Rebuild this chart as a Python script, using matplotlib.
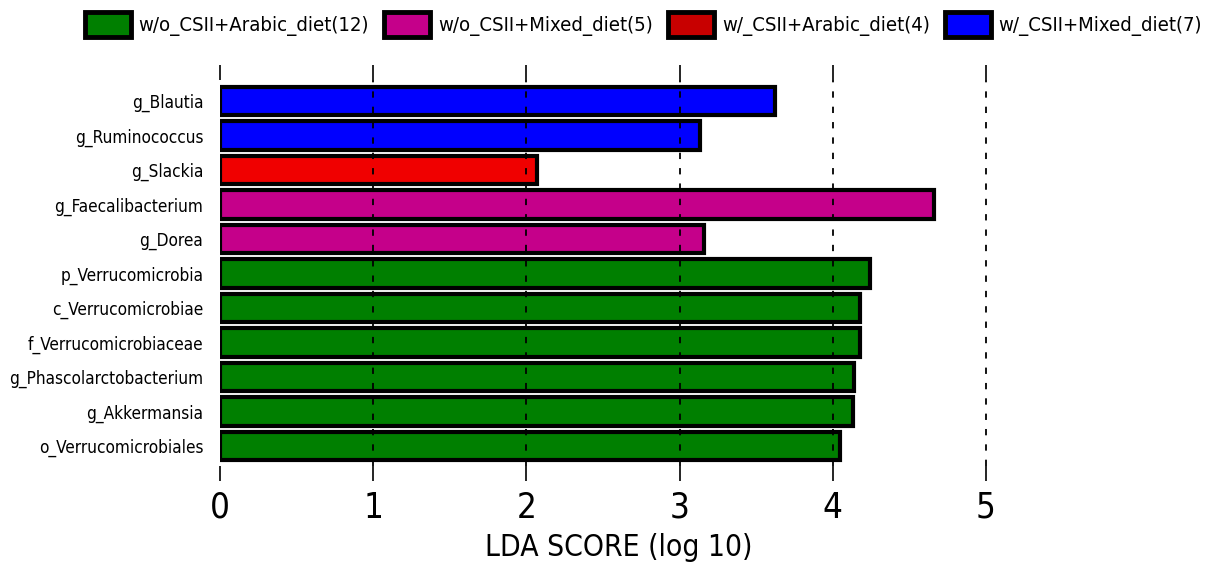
import matplotlib
matplotlib.use("Agg")
import matplotlib.pyplot as plt
from matplotlib.patches import Patch
import numpy as np

plt.rcParams['font.family'] = ['DejaVu Sans']
plt.rcParams['font.stretch'] = 'condensed'

# features listed top to bottom
features = ['g_Blautia', 'g_Ruminococcus', 'g_Slackia', 'g_Faecalibacterium',
            'g_Dorea', 'p_Verrucomicrobia', 'c_Verrucomicrobiae',
            'f_Verrucomicrobiaceae', 'g_Phascolarctobacterium',
            'g_Akkermansia', 'o_Verrucomicrobiales']
lda = [3.62, 3.13, 2.07, 4.66, 3.16, 4.24, 4.18, 4.18, 4.14, 4.13, 4.05]
grupo = ['w/_CSII+Mixed_diet', 'w/_CSII+Mixed_diet', 'w/_CSII+Arabic_diet',
         'w/o_CSII+Mixed_diet', 'w/o_CSII+Mixed_diet',
         'w/o_CSII+Arabic_diet', 'w/o_CSII+Arabic_diet', 'w/o_CSII+Arabic_diet',
         'w/o_CSII+Arabic_diet', 'w/o_CSII+Arabic_diet', 'w/o_CSII+Arabic_diet']

grupos = ['w/o_CSII+Arabic_diet', 'w/o_CSII+Mixed_diet',
          'w/_CSII+Arabic_diet', 'w/_CSII+Mixed_diet']
n_muestras = [12, 5, 4, 7]
colores = {'w/o_CSII+Arabic_diet': '#007F00',
           'w/o_CSII+Mixed_diet': '#C5008A',
           'w/_CSII+Arabic_diet': '#F00000',
           'w/_CSII+Mixed_diet': '#0000FF'}
colores_leyenda = ['#007F00', '#C5008A', '#C80000', '#0000FF']

fig = plt.figure(figsize=(12.11, 5.79), dpi=100)
ax = fig.add_axes([0.1817, 0.1952, 0.8395 - 0.1817, 0.8618 - 0.1952])

y = np.arange(len(features))[::-1]
ax.barh(y, lda, height=0.82, color=[colores[g] for g in grupo],
        edgecolor='black', linewidth=3, zorder=2)

# lineas verticales discontinuas sobre las barras
for xv in range(1, 6):
    ax.axvline(xv, color='black', linestyle=(0, (3.5, 5)), linewidth=1.3, zorder=3)

ax.set_xlim(0, 5.2)
ax.set_ylim(-0.58, 10.61)
ax.set_xticks(range(6))
ax.set_yticks(y)
ax.set_yticklabels(features, fontsize=12.3)
ax.tick_params(axis='y', length=0, pad=12)
ax.tick_params(axis='x', direction='out', length=11, width=1.2, labelsize=25, pad=7)
for s in ax.spines.values():
    s.set_visible(False)

sec = ax.secondary_xaxis('top')
sec.set_xticks(range(6))
sec.tick_params(direction='out', length=11, width=1.2, labeltop=False)
sec.spines['top'].set_visible(False)

ax.set_xlabel('LDA SCORE (log 10)', fontsize=21.5, labelpad=6)

handles = [Patch(facecolor=c, edgecolor='black', linewidth=3.5) for c in colores_leyenda]
etiquetas = ['%s(%d)' % (g, n) for g, n in zip(grupos, n_muestras)]
fig.legend(handles, etiquetas, loc='center', bbox_to_anchor=(0.5314, 0.958), ncol=4,
           frameon=False, fontsize=14.6, handlelength=2.25, handleheight=1.5,
           handletextpad=0.4, columnspacing=0.75, borderpad=0)

fig.savefig('out.png', dpi=100)
